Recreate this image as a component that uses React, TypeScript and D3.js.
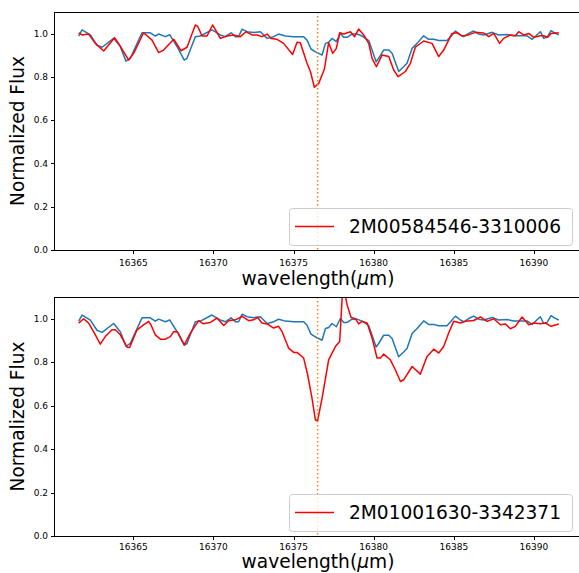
import React from "react";
import * as d3 from "d3";

const xTicks = [16365, 16370, 16375, 16380, 16385, 16390];
const yTicks = [0, 0.2, 0.4, 0.6, 0.8, 1.0];
const lineCenter = 16376.5;
const starNames = ["2M00584546-3310006", "2M01001630-3342371"];

// reference spectrum (blue), shared by both panels: [wavelength, flux]
const referenceSpec: [number, number][] = [
  [16361.59, 0.989], [16361.80, 1.017], [16362.32, 0.994], [16362.73, 0.947], [16363.05, 0.937],
  [16363.77, 0.978], [16364.19, 0.94], [16364.54, 0.873], [16364.81, 0.886], [16365.54, 1.004],
  [16366.06, 1.004], [16366.37, 0.989], [16366.58, 0.998], [16367.00, 0.986], [16367.27, 0.995],
  [16367.73, 0.94], [16368.18, 0.878], [16368.35, 0.886], [16368.87, 0.986], [16369.18, 0.989],
  [16369.91, 1.017], [16370.43, 0.994], [16370.74, 0.986], [16371.10, 1.004], [16371.37, 0.986],
  [16371.57, 0.986], [16371.79, 1.021], [16372.10, 1.009], [16372.51, 1.005], [16372.93, 1.009],
  [16373.35, 0.978], [16373.76, 0.986], [16374.07, 0.998], [16374.49, 0.989], [16375.01, 0.986],
  [16375.63, 0.986], [16375.84, 0.97], [16376.09, 0.929], [16376.36, 0.916], [16376.57, 0.909],
  [16376.78, 0.901], [16376.99, 0.955], [16377.19, 0.96], [16377.40, 0.978], [16377.67, 0.963],
  [16377.92, 1.001], [16378.13, 0.983], [16378.34, 0.983], [16378.65, 0.998], [16378.96, 0.998],
  [16379.28, 0.989], [16379.69, 0.968], [16379.90, 0.924], [16380.15, 0.87], [16380.31, 0.886],
  [16380.62, 0.924], [16380.94, 0.924], [16381.15, 0.909], [16381.56, 0.825], [16381.87, 0.847],
  [16382.08, 0.863], [16382.40, 0.932], [16382.71, 0.955], [16383.12, 0.99], [16383.43, 0.974],
  [16383.75, 0.974], [16384.06, 0.968], [16384.58, 0.968], [16384.89, 0.994], [16385.10, 1.012],
  [16385.41, 0.994], [16385.62, 0.986], [16385.93, 1.001], [16386.24, 1.012], [16386.55, 0.998],
  [16386.87, 0.994], [16387.39, 1.006], [16387.80, 0.994], [16388.33, 0.996], [16388.74, 0.99],
  [16389.05, 0.99], [16389.57, 0.99], [16389.89, 0.974], [16390.40, 1.009], [16390.61, 0.978],
  [16390.82, 0.983], [16391.07, 1.014], [16391.28, 1.004], [16391.55, 0.994],
];

// star 1 (red, top panel)
const starASpec: [number, number][] = [
  [16361.59, 1.004], [16361.80, 0.994], [16362.21, 0.998], [16362.63, 0.955], [16363.15, 0.92],
  [16363.83, 0.981], [16364.08, 0.955], [16364.71, 0.878], [16365.02, 0.909], [16365.64, 1.004],
  [16366.17, 0.97], [16366.58, 0.912], [16366.89, 0.924], [16367.52, 0.974], [16367.98, 0.921],
  [16368.35, 0.937], [16368.87, 1.04], [16369.01, 1.035], [16369.29, 0.989], [16369.60, 0.989],
  [16369.95, 1.04], [16370.43, 0.978], [16370.85, 0.989], [16371.26, 0.994], [16371.68, 0.986],
  [16372.03, 1.009], [16372.41, 0.994], [16372.72, 0.994], [16373.03, 0.986], [16373.35, 0.998],
  [16373.60, 0.978], [16373.97, 0.974], [16374.38, 0.955], [16374.94, 0.904], [16375.22, 0.96],
  [16375.42, 0.958], [16375.84, 0.863], [16376.05, 0.825], [16376.30, 0.752], [16376.57, 0.77],
  [16376.92, 0.835], [16377.19, 0.958], [16377.44, 0.909], [16377.67, 0.932], [16377.88, 1.004],
  [16378.13, 0.998], [16378.55, 1.009], [16378.81, 0.986], [16379.06, 1.021], [16379.38, 0.994],
  [16379.69, 0.955], [16379.90, 0.886], [16380.17, 0.847], [16380.52, 0.901], [16380.94, 0.894],
  [16381.25, 0.832], [16381.52, 0.801], [16381.98, 0.825], [16382.29, 0.863], [16382.60, 0.937],
  [16383.12, 0.966], [16383.64, 0.955], [16384.06, 0.894], [16384.37, 0.924], [16384.89, 1.001],
  [16385.21, 1.004], [16385.52, 0.989], [16385.83, 0.992], [16386.35, 1.006], [16386.87, 1.003],
  [16387.18, 0.986], [16387.49, 1.001], [16387.86, 0.955], [16388.11, 0.978], [16388.53, 0.994],
  [16388.84, 0.99], [16389.05, 1.009], [16389.36, 0.994], [16389.68, 1.001], [16389.99, 0.983],
  [16390.40, 0.99], [16390.61, 0.99], [16390.86, 0.983], [16391.07, 1.001], [16391.55, 1.004],
];

// star 2 (red, bottom panel)
const starBSpec: [number, number][] = [
  [16361.59, 0.98], [16361.90, 1.0], [16362.21, 0.98], [16362.52, 0.941], [16362.94, 0.883],
  [16363.25, 0.918], [16363.67, 0.949], [16363.88, 0.949], [16364.19, 0.926], [16364.61, 0.869],
  [16364.77, 0.868], [16365.23, 0.949], [16365.64, 0.972], [16365.96, 0.988], [16366.10, 0.972],
  [16366.37, 0.926], [16366.69, 0.906], [16367.00, 0.906], [16367.31, 0.918], [16367.52, 0.941],
  [16367.77, 0.939], [16368.18, 0.88], [16368.56, 0.934], [16369.08, 0.991], [16369.35, 0.977],
  [16369.81, 0.983], [16370.22, 1.003], [16370.64, 0.969], [16370.95, 0.991], [16371.37, 0.995],
  [16371.79, 1.011], [16372.20, 0.991], [16372.51, 0.995], [16372.76, 1.006], [16373.03, 0.98],
  [16373.35, 0.976], [16373.76, 0.957], [16374.07, 0.965], [16374.28, 0.941], [16374.69, 0.865],
  [16375.01, 0.845], [16375.22, 0.845], [16375.63, 0.819], [16375.88, 0.742], [16376.15, 0.635],
  [16376.36, 0.535], [16376.50, 0.53], [16376.78, 0.635], [16377.19, 0.811], [16377.61, 0.872],
  [16377.88, 0.895], [16378.08, 1.16], [16378.34, 1.065], [16378.59, 1.006], [16378.86, 1.0],
  [16379.06, 0.976], [16379.28, 0.988], [16379.59, 0.98], [16379.90, 0.911], [16380.21, 0.819],
  [16380.42, 0.819], [16380.62, 0.837], [16381.04, 0.811], [16381.35, 0.765], [16381.67, 0.711],
  [16381.87, 0.719], [16382.40, 0.78], [16382.91, 0.745], [16383.33, 0.826], [16383.75, 0.86],
  [16384.06, 0.842], [16384.37, 0.872], [16384.68, 0.934], [16384.99, 0.988], [16385.41, 0.98],
  [16385.72, 0.988], [16386.24, 0.992], [16386.66, 1.008], [16387.08, 0.988], [16387.49, 1.0],
  [16387.91, 0.972], [16388.22, 0.976], [16388.53, 0.954], [16388.84, 0.965], [16389.26, 1.008],
  [16389.68, 0.972], [16389.99, 0.98], [16390.40, 0.977], [16390.72, 0.98], [16391.07, 0.965],
  [16391.55, 0.976],
];

const W = 579;
const H = 573;
const FONT = "DejaVu Sans, sans-serif";
const LEFT = 54;
const RIGHT = 582;
const xDomain: [number, number] = [16360.05, 16393.0];
const yDomain: [number, number] = [0, 1.1];

type PanelProps = {
  top: number;
  bottom: number;
  star: [number, number][];
  name: string;
  id: string;
  labelOffset: number;
  tickOffset: number;
};

function Panel({ top, bottom, star, name, id, labelOffset, tickOffset }: PanelProps) {
  const x = d3.scaleLinear().domain(xDomain).range([LEFT, RIGHT]);
  const y = d3.scaleLinear().domain(yDomain).range([bottom, top]);
  const line = d3
    .line<[number, number]>()
    .x((d) => x(d[0]))
    .y((d) => y(d[1]));
  const fmt = d3.format(".1f");
  const legTop = bottom - 42;
  const legH = 37;
  return (
    <g>
      <defs>
        <clipPath id={id}>
          <rect x={LEFT} y={top} width={RIGHT - LEFT} height={bottom - top} />
        </clipPath>
      </defs>
      <g clipPath={`url(#${id})`}>
        <path d={line(referenceSpec) || ""} fill="none" stroke="#1f77b4" strokeWidth={1.5} strokeLinejoin="round" />
        <path d={line(star) || ""} fill="none" stroke="#ff0000" strokeWidth={1.5} strokeLinejoin="round" />
        <line
          x1={x(lineCenter)}
          x2={x(lineCenter)}
          y1={top}
          y2={bottom}
          stroke="#ff7f0e"
          strokeWidth={1.5}
          strokeDasharray="1.5,2.5"
        />
      </g>
      {/* spines */}
      <line x1={LEFT} x2={W} y1={top + 0.5} y2={top + 0.5} stroke="#000" strokeWidth={1} />
      <line x1={LEFT} x2={W} y1={bottom + 0.5} y2={bottom + 0.5} stroke="#000" strokeWidth={1} />
      <line x1={LEFT + 0.5} x2={LEFT + 0.5} y1={top} y2={bottom + 1} stroke="#000" strokeWidth={1} />
      {/* y ticks */}
      {yTicks.map((t) => (
        <g key={"y" + t}>
          <line x1={LEFT - 3} x2={LEFT} y1={Math.round(y(t)) + 0.5} y2={Math.round(y(t)) + 0.5} stroke="#000" />
          <text x={LEFT - 6} y={y(t) + 3.2} fontSize={9} textAnchor="end" fontFamily={FONT} fill="#000">
            {fmt(t)}
          </text>
        </g>
      ))}
      {/* x ticks */}
      {xTicks.map((t) => (
        <g key={"x" + t}>
          <line x1={Math.round(x(t)) + 0.5} x2={Math.round(x(t)) + 0.5} y1={bottom} y2={bottom + 4} stroke="#000" />
          <text x={x(t)} y={bottom + tickOffset} fontSize={9} textAnchor="middle" fontFamily={FONT} fill="#000">
            {t}
          </text>
        </g>
      ))}
      {/* axis labels */}
      <text x={(LEFT + RIGHT) / 2} y={bottom + labelOffset} fontSize={18.6} textAnchor="middle" fontFamily={FONT} fill="#000">
        wavelength(<tspan fontStyle="italic">μ</tspan>m)
      </text>
      <text
        transform={`translate(24,${(top + bottom) / 2}) rotate(-90)`}
        fontSize={18.6}
        textAnchor="middle"
        fontFamily={FONT}
        fill="#000"
      >
        Normalized Flux
      </text>
      {/* legend */}
      <rect
        x={289.5}
        y={legTop + 0.5}
        width={283}
        height={legH}
        rx={3}
        ry={3}
        fill="#fff"
        fillOpacity={0.8}
        stroke="#cccccc"
        strokeWidth={1}
      />
      <line x1={295} x2={334} y1={legTop + legH / 2} y2={legTop + legH / 2} stroke="#ff0000" strokeWidth={1.5} />
      <text x={349} y={legTop + legH / 2 + 6.5} fontSize={18.6} fontFamily={FONT} fill="#000">
        {name}
      </text>
    </g>
  );
}

export default function App() {
  return (
    <svg
      width={W}
      height={H}
      viewBox={`0 0 ${W} ${H}`}
      style={{ position: "absolute", left: 0, top: 0, background: "#fff" }}
    >
      <rect x={0} y={0} width={W} height={H} fill="#fff" />
      <Panel top={12} bottom={250} star={starASpec} name={starNames[0]} id="clipTop" labelOffset={35} tickOffset={16} />
      <Panel top={297} bottom={536} star={starBSpec} name={starNames[1]} id="clipBottom" labelOffset={32} tickOffset={14} />
    </svg>
  );
}
